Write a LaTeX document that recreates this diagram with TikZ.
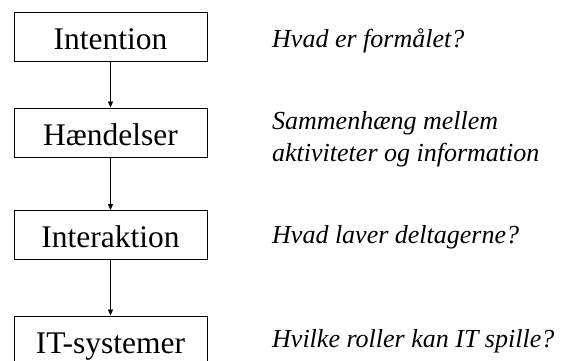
\documentclass[tikz,border=0pt]{standalone}
\usepackage{fontspec}
\setmainfont{Liberation Serif}
\usetikzlibrary{arrows.meta}
\begin{document}
\begin{tikzpicture}[x=1pt,y=-1pt,
  stagebox/.style={draw,line width=0.9pt,minimum width=193pt,minimum height=49pt,inner sep=0pt,text height=25pt,text depth=0pt,font=\fontsize{31.5}{36}\selectfont},
  question/.style={anchor=base west,inner sep=0pt,align=left,font=\fontsize{26}{32}\selectfont\itshape},
  flow/.style={line width=0.8pt,-{Triangle[width=5pt,length=6pt]}}]
\useasboundingbox[fill=white] (0,0) rectangle (564,360);
\node[stagebox] (int) at (110.5,36.5) {Intention};
\node[stagebox] (hae) at (110.5,132.5) {Hændelser};
\node[stagebox] (ia) at (110.5,235) {Interaktion};
\node[stagebox] (it) at (110.5,340.5) {IT-systemer};
\draw[flow] (int) -- (hae);
\draw[flow] (hae) -- (ia);
\draw[flow] (ia) -- (it);
\node[question] (q1) at (272,47) {Hvad er formålet?};
\node[question] (q2) at (272,161) {Sammenhæng mellem\\aktiviteter og information};
\node[question] (q3) at (272,243) {Hvad laver deltagerne?};
\node[question] (q4) at (272,347) {Hvilke roller kan IT spille?};
\end{tikzpicture}
\end{document}
